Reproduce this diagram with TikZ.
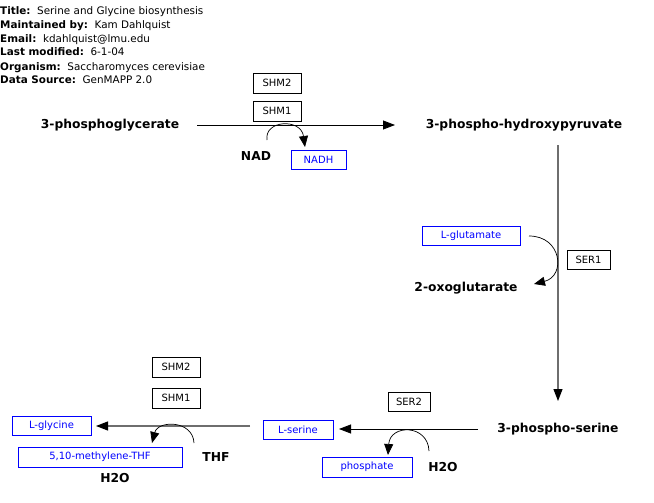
\documentclass[tikz,border=0pt]{standalone}
\usepackage{fontspec}
\setmainfont{DejaVu Sans}
\usetikzlibrary{arrows.meta}
\definecolor{mblue}{RGB}{0,0,255}
\definecolor{lgray}{RGB}{110,110,110}
\tikzset{
  gene/.style={draw=black, fill=white, inner sep=0pt, font=\fontsize{10}{11}\selectfont},
  metab/.style={draw=mblue, fill=white, inner sep=0pt, text=mblue, font=\fontsize{10}{11}\selectfont},
  lbl/.style={inner sep=0pt, font=\bfseries\fontsize{12.3}{14}\selectfont},
  hdr/.style={inner sep=0pt, anchor=base west, font=\fontsize{10.4}{12}\selectfont},
  rx/.style={line width=0.8pt, -{Triangle[length=12pt,width=9pt]}},
  grx/.style={line width=1.2pt, draw=lgray, -{Triangle[length=12pt,width=9pt,color=black]}},
  cv/.style={line width=0.7pt, -{Triangle[length=11pt,width=9pt]}}
}
\begin{document}
\begin{tikzpicture}[x=1pt,y=-1pt]
\useasboundingbox (0,0) rectangle (654,503);
% header
\node[hdr] (h1) at (0,15) {\textbf{Title:}\ \ Serine and Glycine biosynthesis};
\node[hdr] (h2) at (0,29) {\textbf{Maintained by:}\ \ Kam Dahlquist};
\node[hdr] (h3) at (0,43) {\textbf{Email:}\ \ kdahlquist@lmu.edu};
\node[hdr] (h4) at (0,56) {\textbf{Last modified:}\ \ 6-1-04};
\node[hdr] (h5) at (0,71) {\textbf{Organism:}\ \ Saccharomyces cerevisiae};
\node[hdr] (h6) at (0,84) {\textbf{Data Source:}\ \ GenMAPP 2.0};

% top reaction
\node[gene, minimum width=48pt, minimum height=20pt] (shm2a) at (277,83) {SHM2};
\node[gene, minimum width=48pt, minimum height=20pt] (shm1a) at (277,111) {SHM1};
\node[lbl] (pg) at (110,125) {3-phosphoglycerate};
\node[lbl] (php) at (524,125) {3-phospho-hydroxypyruvate};
\coordinate (a1s) at (197,125);
\coordinate (a1e) at (395,125);
\draw[rx] (a1s) -- (a1e);
\node[lbl] (nad) at (256,156) {NAD};
\node[metab, minimum width=55pt, minimum height=19pt] (nadh) at (318.5,159.5) {NADH};
\coordinate (c1s) at (267,140);
\coordinate (c1e) at (305,147);
\draw[cv] (c1s) .. controls (264,120) and (301,118) .. (c1e);

% vertical reaction
\coordinate (vs) at (558,145);
\coordinate (ve) at (558,401);
\draw[grx] (vs) -- (ve);
\node[metab, minimum width=98pt, minimum height=19pt] (glu) at (471,235.5) {L-glutamate};
\node[gene, minimum width=43pt, minimum height=19pt] (ser1) at (588.5,259.5) {SER1};
\node[lbl] (oxo) at (466,288) {2-oxoglutarate};
\coordinate (c2s) at (529,236);
\coordinate (c2e) at (534,284);
\draw[cv] (c2s) .. controls (562,236) and (566,276) .. (c2e);

% serine reaction
\node[lbl] (ps) at (558,429) {3-phospho-serine};
\node[metab, minimum width=70pt, minimum height=19pt] (ser) at (298,429.5) {L-serine};
\node[gene, minimum width=42pt, minimum height=19pt] (ser2) at (409,401.5) {SER2};
\coordinate (a3s) at (478,429);
\coordinate (a3e) at (339,429);
\draw[rx] (a3s) -- (a3e);
\node[metab, minimum width=90pt, minimum height=20pt] (pho) at (367,467) {phosphate};
\node[lbl] (h2oa) at (443,467) {H2O};
\coordinate (c3s) at (429,451);
\coordinate (c3e) at (388,455);
\draw[cv] (c3s) .. controls (428,424) and (390,424) .. (c3e);

% glycine reaction
\node[gene, minimum width=48pt, minimum height=20pt] (shm2b) at (176,367) {SHM2};
\node[gene, minimum width=48pt, minimum height=20pt] (shm1b) at (176,398) {SHM1};
\node[metab, minimum width=79pt, minimum height=19pt] (gly) at (51.5,425.5) {L-glycine};
\coordinate (a4s) at (250,426);
\coordinate (a4e) at (96,426);
\draw[grx] (a4s) -- (a4e);
\node[metab, minimum width=164pt, minimum height=20pt] (mthf) at (100,457) {5,10-methylene-THF};
\node[lbl] (thf) at (216,457) {THF};
\node[lbl] (h2ob) at (115,478) {H2O};
\coordinate (c4s) at (194,443);
\coordinate (c4e) at (152,443);
\draw[cv] (c4s) .. controls (193,420) and (158,420) .. (c4e);
\end{tikzpicture}
\end{document}
